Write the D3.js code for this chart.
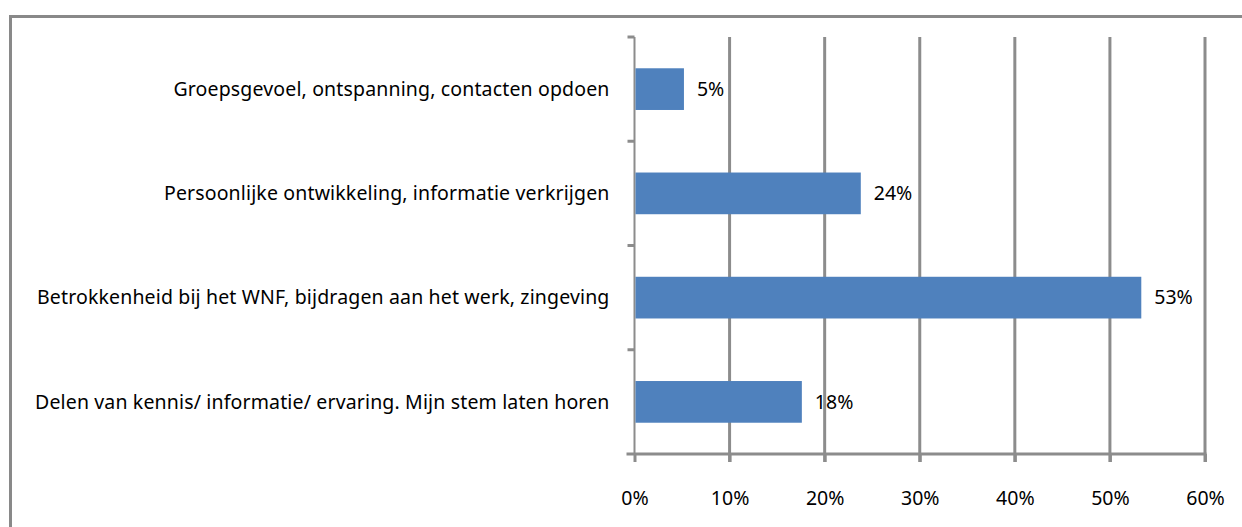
<!DOCTYPE html>
<html>
<head>
<meta charset="utf-8">
<script src="https://cdn.jsdelivr.net/npm/d3@7"></script>
<style>
  body { margin: 0; background: #fff; }
  text { font-family: "Noto Sans", "Open Sans", sans-serif; fill: #000; }
</style>
</head>
<body>
<div id="chart"></div>
<script>
var categories = [
	"Groepsgevoel, ontspanning, contacten opdoen",
	"Persoonlijke ontwikkeling, informatie verkrijgen",
	"Betrokkenheid bij het WNF, bijdragen aan het werk, zingeving",
	"Delen van kennis/ informatie/ ervaring. Mijn stem laten horen"
];
var values = [5.2, 23.8, 53.3, 17.6];
var valueLabels = ["5%", "24%", "53%", "18%"];
var ticks = [0, 10, 20, 30, 40, 50, 60];

var width = 1242, height = 527;
var margin = {top: 37, left: 634.5, right: 37, bottom: 73};
var fontSize = "19.5px";

var svg = d3.select("#chart").append("svg")
	.attr("width", width)
	.attr("height", height);

// outer frame
svg.append("rect")
	.attr("x", 10.5).attr("y", 16.5)
	.attr("width", 1300).attr("height", 600)
	.attr("fill", "none")
	.attr("stroke", "#898989")
	.attr("stroke-width", 3);

var x = d3.scaleLinear()
	.domain([0, 60])
	.range([margin.left, width - margin.right]);

var y = d3.scaleBand()
	.domain(categories)
	.range([margin.top, height - margin.bottom])
	.paddingInner(0.6)
	.paddingOuter(0.3);

var y0 = margin.top, y1 = height - margin.bottom;

// gridlines
svg.append("g").selectAll("line")
	.data(ticks.slice(1))
	.enter().append("line")
	.attr("x1", function(d) { return x(d); })
	.attr("x2", function(d) { return x(d); })
	.attr("y1", y0).attr("y2", y1 + 8)
	.attr("stroke", "#8c8c8c")
	.attr("stroke-width", 3);

// bottom axis
var xAxis = svg.append("g")
	.attr("transform", "translate(0," + y1 + ")")
	.call(d3.axisBottom(x).tickValues(ticks).tickSize(8).tickPadding(29)
		.tickFormat(function(d) { return d + "%"; }));
xAxis.select(".domain").remove();
xAxis.append("line")
	.attr("x1", margin.left - 8).attr("x2", x(60) + 1.5)
	.attr("stroke", "#8c8c8c").attr("stroke-width", 3);
xAxis.selectAll(".tick line").attr("stroke", "#8c8c8c").attr("stroke-width", 3);
xAxis.selectAll(".tick text")
	.style("font-size", fontSize)
	.attr("fill", "#000");

// left axis
var step = y.step();
var catTicks = d3.range(categories.length + 1).map(function(i) { return y0 + i * step; });
svg.append("line")
	.attr("x1", margin.left).attr("x2", margin.left)
	.attr("y1", y0).attr("y2", y1)
	.attr("stroke", "#8c8c8c").attr("stroke-width", 2);
svg.append("g").selectAll("line")
	.data(catTicks.slice(0, -1))
	.enter().append("line")
	.attr("x1", margin.left - 7).attr("x2", margin.left)
	.attr("y1", function(d) { return d; })
	.attr("y2", function(d) { return d; })
	.attr("stroke", "#8c8c8c").attr("stroke-width", 3);

// bars
svg.append("g").selectAll("rect")
	.data(values)
	.enter().append("rect")
	.attr("x", x(0) + 1)
	.attr("y", function(d, i) { return y(categories[i]); })
	.attr("width", function(d) { return x(d) - x(0) - 1; })
	.attr("height", y.bandwidth())
	.attr("fill", "#4f81bd");

// value labels
svg.append("g").selectAll("text")
	.data(values)
	.enter().append("text")
	.attr("x", function(d) { return x(d) + 13; })
	.attr("y", function(d, i) { return y(categories[i]) + y.bandwidth() / 2; })
	.attr("dy", "0.35em")
	.style("font-size", fontSize)
	.text(function(d, i) { return valueLabels[i]; });

// category labels
svg.append("g").selectAll("text")
	.data(categories)
	.enter().append("text")
	.attr("x", margin.left - 25)
	.attr("y", function(d) { return y(d) + y.bandwidth() / 2; })
	.attr("dy", "0.35em")
	.attr("text-anchor", "end")
	.style("font-size", fontSize)
	.style("letter-spacing", "0.15px")
	.text(function(d) { return d; });
</script>
</body>
</html>
